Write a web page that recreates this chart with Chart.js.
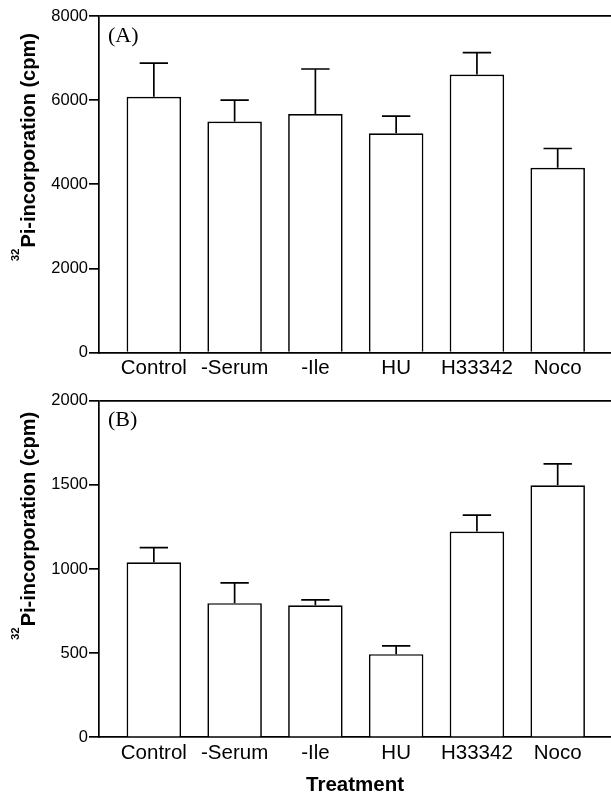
<!DOCTYPE html>
<html><head><meta charset="utf-8">
<script src="https://cdn.jsdelivr.net/npm/chart.js@4/dist/chart.umd.min.js"></script>
<style>
html,body{margin:0;padding:0;background:#fff;}
#wrapA{position:absolute;left:0;top:0;width:611px;height:385px;}
#wrapB{position:absolute;left:0;top:385px;width:611px;height:411px;}
canvas{display:block;}
</style></head><body>
<div id="wrapA"><canvas id="cA" width="611" height="385"></canvas></div>
<div id="wrapB"><canvas id="cB" width="611" height="411"></canvas></div>
<script>
const categories = ['Control', '-Serum', '-Ile', 'HU', 'H33342', 'Noco'];
const meansA = [6080, 5490, 5670, 5210, 6610, 4390];
const errA   = [800, 510, 1070, 410, 520, 460];
const meansB = [1040, 797, 785, 494, 1223, 1498];
const errB   = [87, 120, 31, 49, 97, 127];
const yTicksA = [0, 2000, 4000, 6000, 8000];
const yTicksB = [0, 500, 1000, 1500, 2000];
const panelLabelA = '(A)';
const panelLabelB = '(B)';
const yTitleSup = '32';
const yTitleMain = 'Pi-incorporation (cpm)';
const xTitle = 'Treatment';

const SANS = "'Liberation Sans', Arial, Helvetica, sans-serif";
const SERIF = "'Liberation Serif', 'Times New Roman', serif";

const errorBarPlugin = {
  id: 'errbars',
  afterDatasetsDraw(chart, args, opts) {
    const meta = chart.getDatasetMeta(0);
    const ys = chart.scales.y;
    const ctx = chart.ctx;
    ctx.save();
    ctx.strokeStyle = '#000';
    ctx.lineWidth = 1.7;
    meta.data.forEach((bar, i) => {
      const top = ys.getPixelForValue(opts.means[i] + opts.errs[i]);
      const half = bar.width * 0.26;
      ctx.beginPath();
      ctx.moveTo(bar.x, bar.y);
      ctx.lineTo(bar.x, top);
      ctx.moveTo(bar.x - half, top);
      ctx.lineTo(bar.x + half, top);
      ctx.stroke();
    });
    ctx.restore();
  }
};

const decorPlugin = {
  id: 'decor',
  afterDraw(chart, args, opts) {
    const ctx = chart.ctx;
    const ca = chart.chartArea;
    ctx.save();
    ctx.fillStyle = '#000';
    ctx.font = '22px ' + SERIF;
    ctx.textBaseline = 'middle';
    ctx.textAlign = 'left';
    ctx.fillText(opts.label, ca.left + 9, ca.top + 20);
    const mainFont = 'bold 20px ' + SANS;
    const supFont = 'bold 11.5px ' + SANS;
    ctx.font = mainFont;
    const wMain = ctx.measureText(yTitleMain).width;
    ctx.font = supFont;
    const wSup = ctx.measureText(yTitleSup).width;
    const total = wSup + 1 + wMain;
    const cy = (ca.top + ca.bottom) / 2 + opts.titleShift;
    ctx.translate(34.5, cy);
    ctx.rotate(-Math.PI / 2);
    ctx.textBaseline = 'alphabetic';
    ctx.font = supFont;
    ctx.fillText(yTitleSup, -total / 2, -16);
    ctx.font = mainFont;
    ctx.fillText(yTitleMain, -total / 2 + wSup + 1, 0);
    ctx.restore();
  }
};

function makeChart(id, means, errs, yTicks, label, titleShift, topPad, bottomAt, showXTitle) {
  const yMax = yTicks[yTicks.length - 1];
  return new Chart(document.getElementById(id), {
    type: 'bar',
    data: {
      datasets: [{
        data: categories.map((c, i) => ({ x: i, y: means[i] })),
        backgroundColor: '#fff',
        borderColor: '#000',
        borderWidth: 1.7,
        categoryPercentage: 1,
        barPercentage: 0.675
      }]
    },
    plugins: [errorBarPlugin, decorPlugin],
    options: {
      responsive: false,
      animation: false,
      layout: { padding: { top: topPad, left: 0, right: 0, bottom: 0 } },
      plugins: {
        legend: { display: false },
        tooltip: { enabled: false },
        errbars: { means: means, errs: errs },
        decor: { label: label, titleShift: titleShift }
      },
      scales: {
        x: {
          type: 'linear',
          min: -0.679,
          max: 5.66,
          offset: false,
          grid: { display: true, drawOnChartArea: false, drawTicks: false, color: 'transparent' },
          border: { display: true, color: '#000', width: 1.7 },
          afterBuildTicks: s => { s.ticks = categories.map((c, i) => ({ value: i })); },
          afterFit: s => { s.height = s.chart.height - bottomAt; },
          ticks: {
            autoSkip: false, maxRotation: 0, minRotation: 0, padding: 4, color: '#000',
            font: { family: SANS, size: 20.5 },
            callback: v => categories[v]
          },
          title: {
            display: showXTitle, text: xTitle, color: '#000',
            font: { family: SANS, size: 20.5, weight: 'bold', lineHeight: 1 },
            padding: { top: 0, bottom: 0 }
          }
        },
        y: {
          min: 0,
          max: yMax,
          afterBuildTicks: s => { s.ticks = yTicks.map(v => ({ value: v })); },
          afterFit: s => { s.width = 99; },
          grid: {
            drawOnChartArea: true, drawTicks: true, tickLength: 10, lineWidth: 1.7,
            color: c => (c.tick && c.tick.value === yMax) ? '#000' : 'transparent',
            tickColor: '#000'
          },
          border: { display: true, color: '#000', width: 1.7 },
          ticks: {
            padding: 1, color: '#000',
            font: { family: SANS, size: 16.5 },
            callback: v => String(v)
          }
        }
      }
    }
  });
}

makeChart('cA', meansA, errA, yTicksA, panelLabelA, -37, 16, 352.5, false);
makeChart('cB', meansB, errB, yTicksB, panelLabelB, -43, 15.7, 352.3, true);
</script>
</body></html>
